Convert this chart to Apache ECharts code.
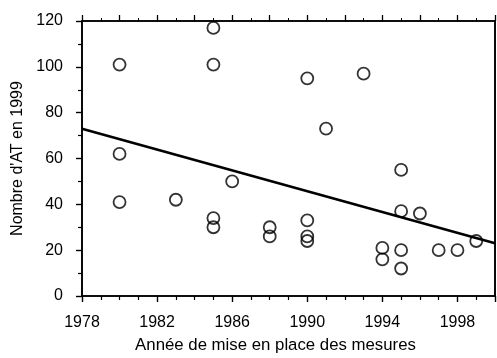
<!DOCTYPE html>
<html>
<head>
<meta charset="utf-8">
<style>
  html, body { margin: 0; padding: 0; background: #fff; }
  #chart { width: 497px; height: 358px; }
</style>
<script src="https://cdn.jsdelivr.net/npm/echarts@6/dist/echarts.min.js"></script>
</head>
<body>
<div id="chart"></div>
<script>
// Year each measure was put in place, and the number of AT counted in 1999
const years = [1980, 1980, 1980, 1983, 1985, 1985, 1985, 1985, 1986, 1988, 1988,
               1990, 1990, 1990, 1990, 1991, 1993, 1994, 1994, 1995, 1995, 1995,
               1995, 1996, 1997, 1998, 1999];
const counts = [101, 62, 41, 42, 117, 101, 34, 30, 50, 30, 26,
                95, 33, 26, 24, 73, 97, 21, 16, 55, 37, 20,
                12, 36, 20, 20, 24];

// Fitted trend line end points
const trendYears = [1978, 2000];
const trendValues = [73, 23];

const xTickYears = [1978, 1982, 1986, 1990, 1994, 1998];
const yTicks = [0, 20, 40, 60, 80, 100, 120];

const font = '"Liberation Sans", Arial, sans-serif';
const makeLine = () => ({ show: true, onZero: false, lineStyle: { color: '#000', width: 1.6 } });

const chart = echarts.init(document.getElementById('chart'), null, { renderer: 'canvas' });

chart.setOption({
  animation: false,
  backgroundColor: '#fff',
  grid: {
    left: 82, right: 2, top: 21, bottom: 62,
    containLabel: false, outerBoundsMode: 'none',
    show: true, borderColor: '#000', borderWidth: 1.6, backgroundColor: 'transparent'
  },
  xAxis: [
    {
      type: 'value',
      position: 'bottom',
      min: xTickYears[0],
      max: 2000,
      interval: 4,
      axisLine: makeLine(),
      axisTick: { show: true, inside: false, length: 6, lineStyle: { color: '#000', width: 1.4 } },
      minorTick: { show: true, splitNumber: 4, length: 4, lineStyle: { color: '#000', width: 1.2 } },
      splitLine: { show: false },
      axisLabel: {
        color: '#000', fontFamily: font, fontSize: 16, margin: 19,
        formatter: v => (xTickYears.includes(v) ? String(v) : '')
      },
      name: 'Année de mise en place des mesures',
      nameLocation: 'middle',
      nameGap: 41,
      nameTextStyle: { color: '#000', fontFamily: font, fontSize: 16.8, padding: [0, 26, 0, 0] }
    },
    {
      type: 'value',
      position: 'top',
      min: 1978,
      max: 2000,
      interval: 2,
      axisLine: makeLine(),
      axisTick: { show: true, inside: false, length: 6, lineStyle: { color: '#000', width: 1.3 } },
      minorTick: { show: true, splitNumber: 2, length: 3, lineStyle: { color: '#000', width: 1 } },
      splitLine: { show: false },
      axisLabel: { show: false }
    }
  ],
  yAxis: [
    {
      type: 'value',
      position: 'left',
      min: 0,
      max: 120,
      interval: 20,
      axisLine: makeLine(),
      axisTick: { show: true, inside: false, length: 6, lineStyle: { color: '#000', width: 1.4 } },
      minorTick: { show: true, splitNumber: 2, length: 4, lineStyle: { color: '#000', width: 1.2 } },
      splitLine: { show: false },
      axisLabel: {
        color: '#000', fontFamily: font, fontSize: 16, margin: 19,
        formatter: v => (yTicks.includes(v) ? String(v) : '')
      },
      name: "Nombre d'AT en 1999",
      nameLocation: 'middle',
      nameGap: 56,
      nameTextStyle: { color: '#000', fontFamily: font, fontSize: 16 }
    },
    {
      type: 'value',
      position: 'right',
      min: 0,
      max: 120,
      interval: 20,
      axisLine: makeLine(),
      axisTick: { show: false },
      splitLine: { show: false },
      axisLabel: { show: false }
    }
  ],
  series: [
    {
      type: 'scatter',
      xAxisIndex: 0,
      yAxisIndex: 0,
      data: years.map((y, i) => [y, counts[i]]),
      symbol: 'circle',
      symbolSize: 12,
      itemStyle: { color: 'rgba(0,0,0,0)', borderColor: '#000', borderWidth: 1.8 },
      z: 3
    },
    {
      type: 'line',
      xAxisIndex: 0,
      yAxisIndex: 0,
      data: trendYears.map((y, i) => [y, trendValues[i]]),
      showSymbol: false,
      symbol: 'none',
      lineStyle: { color: '#000', width: 2.6 },
      z: 2
    }
  ]
});
</script>
</body>
</html>
